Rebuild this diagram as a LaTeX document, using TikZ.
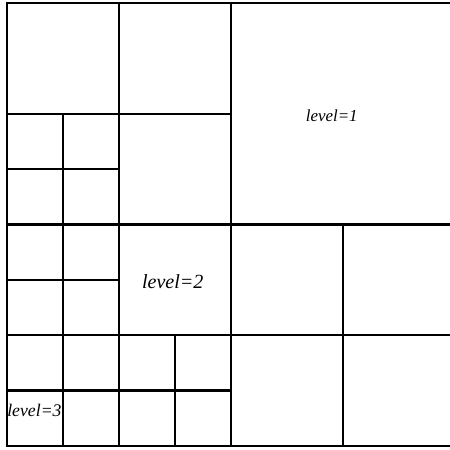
\documentclass[tikz,border=0pt]{standalone}
\usepackage{fontspec}
\setmainfont{Liberation Serif}
\usepackage{tikz}
\usetikzlibrary{positioning}

\tikzset{
  levellabel/.style={inner sep=0pt,font=\itshape}
}

\begin{document}
\begin{tikzpicture}[x=1cm,y=0.989cm,line width=1.2pt]
\useasboundingbox (-0.125,-0.072) rectangle (7.911,8.054);
% outer frame (right edge runs off the page)
\draw (0,0) rectangle (8,8);
% level 1
\draw (4,0) -- (4,8);
\draw (0,4) -- (8,4);
% level 2
\foreach \bx/\by in {0/4, 0/0, 4/0} {
  \draw (\bx+2,\by) -- (\bx+2,\by+4);
  \draw (\bx,\by+2) -- (\bx+4,\by+2);
}
% level 3
\foreach \bx/\by in {0/4, 0/2, 0/0, 2/0} {
  \draw (\bx+1,\by) -- (\bx+1,\by+2);
  \draw (\bx,\by+1) -- (\bx+2,\by+1);
}
\node[levellabel,font=\itshape\fontsize{8.6}{10}\selectfont] (lone) at (5.8,5.97) {level=1};
\node[levellabel,font=\itshape\fontsize{10.2}{12}\selectfont] (ltwo) at (2.96,2.96) {level=2};
\node[levellabel,font=\itshape\fontsize{9}{10}\selectfont] (lthree) at (0.49,0.64) {level=3};
\end{tikzpicture}
\end{document}
